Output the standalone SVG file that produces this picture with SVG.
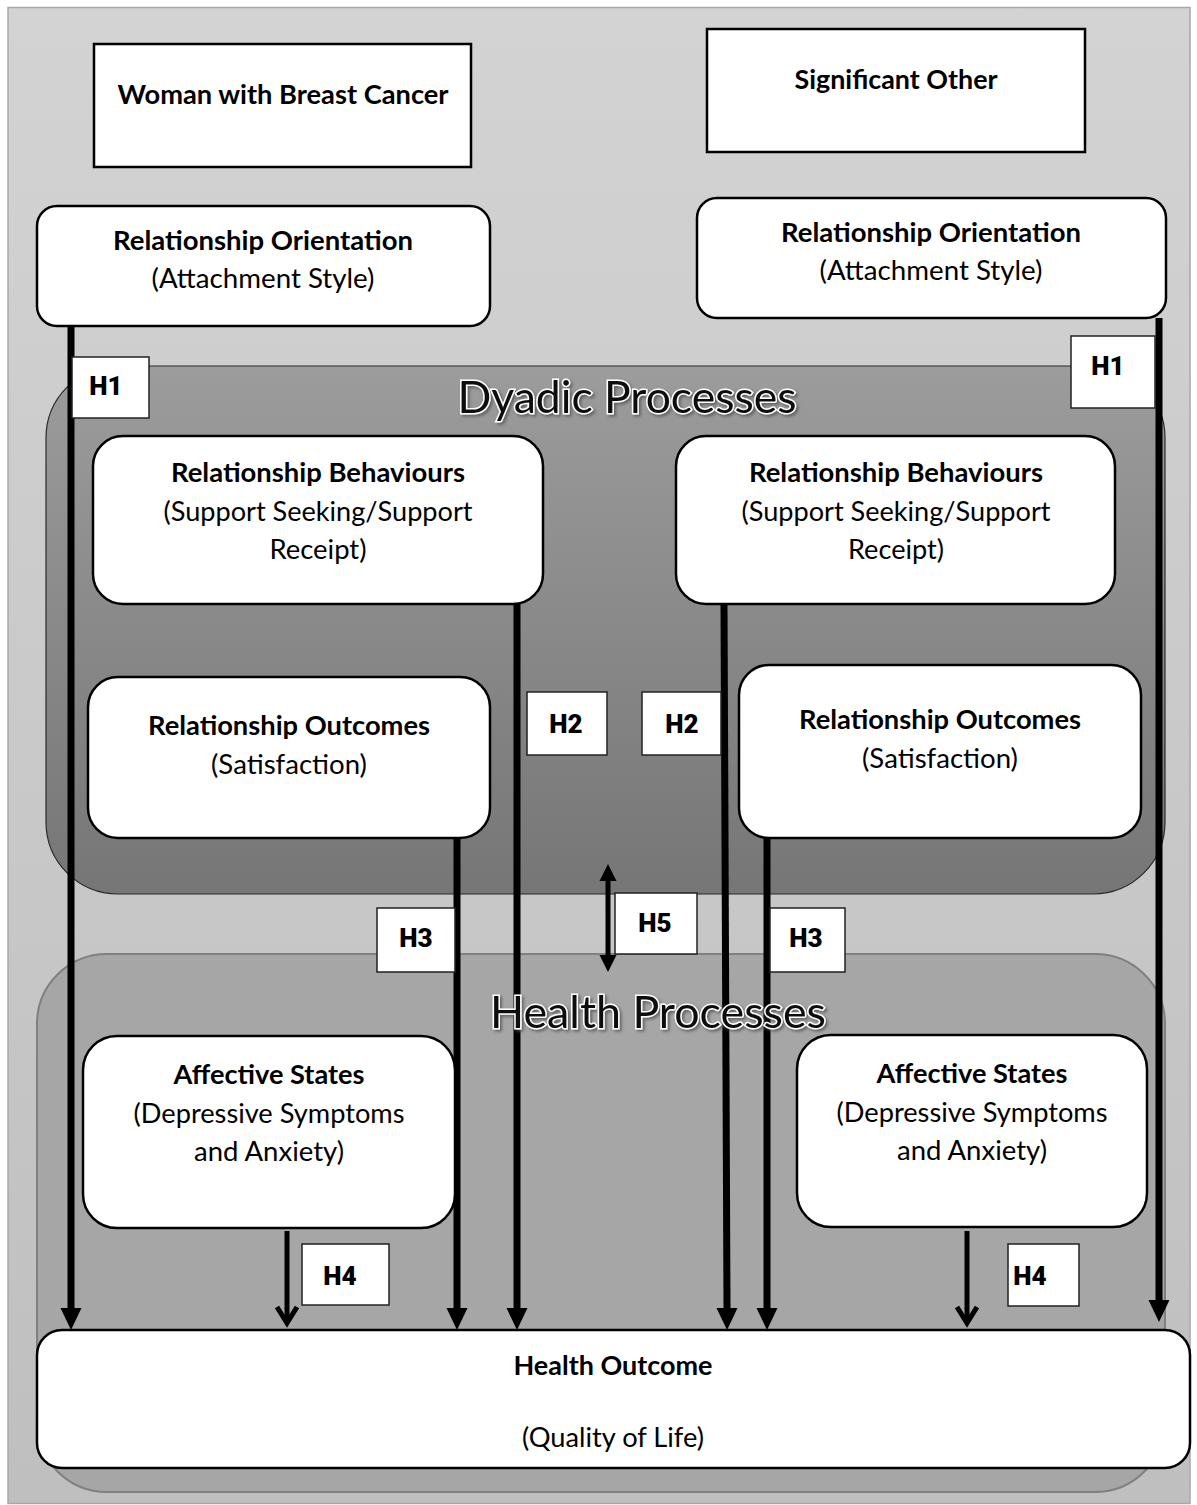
<svg xmlns="http://www.w3.org/2000/svg" width="1197" height="1505" viewBox="0 0 1197 1505">
  <style>
    .t { font-family: Lato, "Open Sans", "Liberation Sans", sans-serif; font-size: 26px; fill: #000; text-anchor: middle; }
    .b { font-weight: bold; }
    .box { fill: #fff; stroke: #000; stroke-width: 2.5; }
    .hbox { fill: #fff; stroke: #222; stroke-width: 1.5; }
    .h { font-family: Roboto, "DejaVu Sans", sans-serif; font-weight: 900; font-size: 26px; fill: #000; text-anchor: middle; }
    .title { font-family: Lato, "Open Sans", sans-serif; font-size: 44px; fill: #111; stroke: #fff; stroke-width: 3; paint-order: stroke; text-anchor: middle; }
    .arrow { stroke: #000; stroke-width: 7; fill: none; marker-end: url(#solid); }
    .thin { stroke: #000; stroke-width: 5; fill: none; }
  </style>
  <defs>
    <linearGradient id="bg" x1="0" y1="0" x2="0" y2="1">
      <stop offset="0" stop-color="#d3d3d3"/>
      <stop offset="1" stop-color="#bfbfbf"/>
    </linearGradient>
    <linearGradient id="dyadic" x1="0" y1="0" x2="0" y2="1">
      <stop offset="0" stop-color="#9c9c9c"/>
      <stop offset="1" stop-color="#767676"/>
    </linearGradient>
    <filter id="shadow" x="-10%" y="-20%" width="120%" height="150%">
      <feGaussianBlur in="SourceAlpha" stdDeviation="1.5"/>
      <feOffset dx="2" dy="2" result="o"/>
      <feFlood flood-color="#555" flood-opacity="0.8"/>
      <feComposite in2="o" operator="in"/>
      <feMerge><feMergeNode/><feMergeNode in="SourceGraphic"/></feMerge>
    </filter>
    <marker id="solid" markerUnits="userSpaceOnUse" markerWidth="24" markerHeight="24" refX="0" refY="10.5" orient="auto" overflow="visible">
      <path d="M0,0 L22,10.5 L0,21 z" fill="#000"/>
    </marker>
    <marker id="solidS" markerUnits="userSpaceOnUse" markerWidth="20" markerHeight="20" refX="0" refY="8.5" orient="auto-start-reverse" overflow="visible">
      <path d="M0,0 L17,8.5 L0,17 z" fill="#000"/>
    </marker>
    <marker id="chev" markerUnits="userSpaceOnUse" markerWidth="24" markerHeight="24" refX="16" refY="10" orient="auto" overflow="visible">
      <path d="M0,0 L16,10 L0,20" fill="none" stroke="#000" stroke-width="5" stroke-linejoin="miter"/>
    </marker>
  </defs>

  <!-- background frame -->
  <rect x="8" y="7.5" width="1182" height="1496" fill="url(#bg)" stroke="#a8a8a8" stroke-width="1.5"/>

  <!-- process panels -->
  <g id="dyadic-panel">
    <rect x="46" y="366" width="1119" height="528" rx="72" ry="72" fill="url(#dyadic)" stroke="#2a2a2a" stroke-width="1.2"/>
  </g>
  <g id="health-panel">
    <rect x="37" y="954" width="1128" height="538" rx="70" ry="70" fill="#a6a6a6" stroke="#808080" stroke-width="2"/>
  </g>

  <!-- hypothesised paths -->
  <g id="connectors">
    <line x1="71" y1="326" x2="71" y2="1308" class="arrow"/>
    <line x1="1159" y1="318" x2="1159" y2="1300" class="arrow"/>
    <line x1="517" y1="604" x2="517" y2="1308" class="arrow"/>
    <line x1="724" y1="604" x2="727" y2="1308" class="arrow"/>
    <line x1="457" y1="838" x2="457" y2="1308" class="arrow"/>
    <line x1="767" y1="838" x2="767" y2="1308" class="arrow"/>
    <line x1="287" y1="1231" x2="287" y2="1323" class="thin" marker-end="url(#chev)"/>
    <line x1="967" y1="1231" x2="967" y2="1323" class="thin" marker-end="url(#chev)"/>
    <line x1="608" y1="881" x2="608" y2="955" class="thin" marker-start="url(#solidS)" marker-end="url(#solidS)"/>
  </g>

  <!-- panel titles -->
  <g id="panel-titles">
    <text x="627" y="413" class="title" filter="url(#shadow)" textLength="339" lengthAdjust="spacingAndGlyphs">Dyadic Processes</text>
    <text x="658" y="1028" class="title" filter="url(#shadow)" textLength="336" lengthAdjust="spacingAndGlyphs">Health Processes</text>
  </g>

  <!-- actors -->
  <g id="woman">
    <rect x="94" y="44" width="377" height="123" class="box"/>
    <text x="283" y="104" class="t b" textLength="331" lengthAdjust="spacingAndGlyphs">Woman with Breast Cancer</text>
  </g>
  <g id="other">
    <rect x="707" y="29" width="378" height="123" class="box"/>
    <text x="896" y="89" class="t b" textLength="203" lengthAdjust="spacingAndGlyphs">Significant Other</text>
  </g>

  <!-- woman's constructs -->
  <g id="orient-w">
    <rect x="37" y="206" width="453" height="120" rx="20" class="box"/>
    <text x="263" y="250" class="t b" textLength="300" lengthAdjust="spacingAndGlyphs">Relationship Orientation</text>
    <text x="263" y="288" class="t" textLength="223" lengthAdjust="spacingAndGlyphs">(Attachment Style)</text>
  </g>
  <g id="behav-w">
    <rect x="93" y="436" width="450" height="168" rx="30" class="box"/>
    <text x="318" y="482" class="t b" textLength="294" lengthAdjust="spacingAndGlyphs">Relationship Behaviours</text>
    <text x="318" y="521" class="t" textLength="309" lengthAdjust="spacingAndGlyphs">(Support Seeking/Support</text>
    <text x="318" y="559" class="t" textLength="97" lengthAdjust="spacingAndGlyphs">Receipt)</text>
  </g>
  <g id="outcome-w">
    <rect x="88" y="677" width="402" height="161" rx="30" class="box"/>
    <text x="289" y="735" class="t b" textLength="282" lengthAdjust="spacingAndGlyphs">Relationship Outcomes</text>
    <text x="289" y="774" class="t" textLength="156" lengthAdjust="spacingAndGlyphs">(Satisfaction)</text>
  </g>
  <g id="affect-w">
    <rect x="83" y="1036" width="372" height="192" rx="34" class="box"/>
    <text x="269" y="1084" class="t b" textLength="191" lengthAdjust="spacingAndGlyphs">Affective States</text>
    <text x="269" y="1123" class="t" textLength="271" lengthAdjust="spacingAndGlyphs">(Depressive Symptoms</text>
    <text x="269" y="1161" class="t" textLength="150" lengthAdjust="spacingAndGlyphs">and Anxiety)</text>
  </g>

  <!-- partner's constructs -->
  <g id="orient-o">
    <rect x="697" y="198" width="469" height="120" rx="20" class="box"/>
    <text x="931" y="242" class="t b" textLength="300" lengthAdjust="spacingAndGlyphs">Relationship Orientation</text>
    <text x="931" y="280" class="t" textLength="223" lengthAdjust="spacingAndGlyphs">(Attachment Style)</text>
  </g>
  <g id="behav-o">
    <rect x="676" y="436" width="439" height="168" rx="30" class="box"/>
    <text x="896" y="482" class="t b" textLength="294" lengthAdjust="spacingAndGlyphs">Relationship Behaviours</text>
    <text x="896" y="521" class="t" textLength="309" lengthAdjust="spacingAndGlyphs">(Support Seeking/Support</text>
    <text x="896" y="559" class="t" textLength="96" lengthAdjust="spacingAndGlyphs">Receipt)</text>
  </g>
  <g id="outcome-o">
    <rect x="739" y="665" width="402" height="173" rx="30" class="box"/>
    <text x="940" y="729" class="t b" textLength="282" lengthAdjust="spacingAndGlyphs">Relationship Outcomes</text>
    <text x="940" y="768" class="t" textLength="156" lengthAdjust="spacingAndGlyphs">(Satisfaction)</text>
  </g>
  <g id="affect-o">
    <rect x="797" y="1035" width="350" height="192" rx="34" class="box"/>
    <text x="972" y="1083" class="t b" textLength="191" lengthAdjust="spacingAndGlyphs">Affective States</text>
    <text x="972" y="1122" class="t" textLength="271" lengthAdjust="spacingAndGlyphs">(Depressive Symptoms</text>
    <text x="972" y="1160" class="t" textLength="150" lengthAdjust="spacingAndGlyphs">and Anxiety)</text>
  </g>

  <!-- shared outcome -->
  <g id="health-outcome">
    <rect x="37" y="1330" width="1153" height="138" rx="25" class="box"/>
    <text x="613" y="1375" class="t b" textLength="199" lengthAdjust="spacingAndGlyphs">Health Outcome</text>
    <text x="613" y="1447" class="t" textLength="182" lengthAdjust="spacingAndGlyphs">(Quality of Life)</text>
  </g>

  <!-- hypothesis labels -->
  <g id="h1-w"><rect x="72" y="357" width="77" height="61" class="hbox"/><text x="106" y="395" class="h">H1</text></g>
  <g id="h1-o"><rect x="1071" y="336" width="84" height="72" class="hbox"/><text x="1108" y="375" class="h">H1</text></g>
  <g id="h2-w"><rect x="527" y="692" width="80" height="63" class="hbox"/><text x="566" y="733" class="h">H2</text></g>
  <g id="h2-o"><rect x="642" y="692" width="79" height="63" class="hbox"/><text x="682" y="733" class="h">H2</text></g>
  <g id="h3-w"><rect x="377" y="908" width="78" height="64" class="hbox"/><text x="416" y="947" class="h">H3</text></g>
  <g id="h3-o"><rect x="770" y="908" width="75" height="64" class="hbox"/><text x="806" y="947" class="h">H3</text></g>
  <g id="h5"><rect x="615" y="893" width="82" height="61" class="hbox"/><text x="655" y="932" class="h">H5</text></g>
  <g id="h4-w"><rect x="302" y="1244" width="87" height="61" class="hbox"/><text x="340" y="1285" class="h">H4</text></g>
  <g id="h4-o"><rect x="1008" y="1244" width="71" height="62" class="hbox"/><text x="1030" y="1285" class="h">H4</text></g>
</svg>
